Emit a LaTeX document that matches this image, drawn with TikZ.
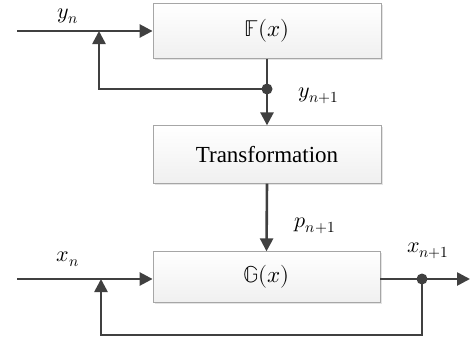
\documentclass[tikz,border=0pt]{standalone}
\usepackage{unicode-math}
\setmainfont{Liberation Serif}
\setmathfont{Latin Modern Math}
\usetikzlibrary{arrows.meta,shadows}
\definecolor{ln}{HTML}{404040}
\tikzset{
  blk/.style={draw=gray!70, line width=0.8pt, top color=white, bottom color=gray!12,
    minimum width=228pt, drop shadow={shadow xshift=1.5pt, shadow yshift=-1.5pt, fill=gray!35, opacity=0.6},
    font=\fontsize{23}{27}\selectfont, inner sep=0pt},
  wire/.style={draw=ln, line width=2.6pt},
  arr/.style={wire, -{Triangle[length=13pt,width=13pt]}},
  lbl/.style={font=\fontsize{22}{26}\selectfont, inner sep=0pt},
  dotc/.style={circle, fill=ln, minimum size=11pt, inner sep=0pt}
}
\begin{document}
\begin{tikzpicture}[x=1pt,y=-1pt]
\useasboundingbox (0,0) rectangle (471,341);
\node[blk, minimum height=54.5pt] (F) at (267,31) {$\mathbb{F}(x)$};
\node[blk, minimum height=57.5pt] (T) at (267,154.5) {Transformation};
\node[blk, minimum height=50.5pt, minimum width=227pt] (G) at (266.5,277) {$\mathbb{G}(x)$};
% top loop
\coordinate (inY) at (17,31);
\coordinate (jF) at (99,31);
\coordinate (cF) at (99,89);
\node[dotc] (dF) at (267,89) {};
\draw[arr] (inY) -- (F.west);
\draw[wire] (F.south) -- (dF.center);
\draw[arr] (dF.center) -- (T.north);
\draw[arr] (dF.center) -- (cF) -- (jF);
\draw[arr] (T.south) -- (G.north);
% bottom loop
\coordinate (inX) at (17,279);
\coordinate (jG) at (101,279);
\coordinate (cG) at (101,335);
\node[dotc] (dG) at (422,279) {};
\coordinate (outX) at (470,279);
\coordinate (cG2) at (422,335);
\draw[arr] (inX) -- (G.west |- inX);
\draw[wire] (G.east |- dG) -- (dG.center);
\draw[arr] (dG.center) -- (outX);
\draw[arr] (dG.center) -- (cG2) -- (cG) -- (jG);
% labels
\node[lbl] (ly) at (68,16) {$y_n$};
\node[lbl] (ly1) at (319,96) {$y_{n+1}$};
\node[lbl] (lp) at (315,226) {$p_{n+1}$};
\node[lbl] (lx) at (68,259) {$x_n$};
\node[lbl] (lx1) at (428,251) {$x_{n+1}$};
\end{tikzpicture}
\end{document}
